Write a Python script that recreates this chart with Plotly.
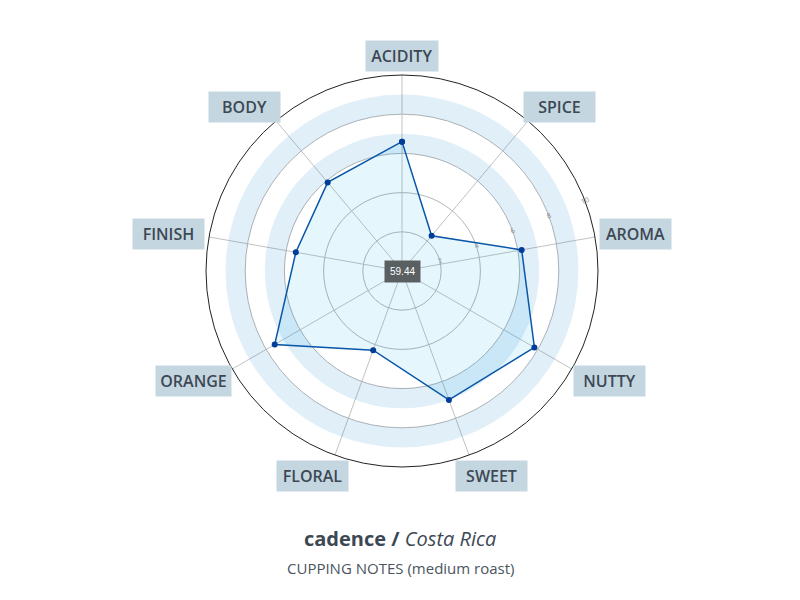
import math
import plotly.graph_objects as go

# cupping notes for the roast, read clockwise starting at the top
categories = ['ACIDITY', 'SPICE', 'AROMA', 'NUTTY', 'SWEET', 'FLORAL', 'ORANGE', 'FINISH', 'BODY']
scores = [6.6, 2.35, 6.2, 7.8, 7.0, 4.3, 7.5, 5.5, 5.9]
total_score = '59.44'

# shaded target zones (from, to)
band_starts = [6, 8]
band_ends = [7, 9]

radial_ticks = [2, 4, 6, 8, 10]

title_brand = 'cadence /'
title_origin = 'Costa Rica'
subtitle = 'CUPPING NOTES (medium roast)'

step = 360 / len(categories)
thetas = [i * step for i in range(len(categories))]

text_color = '#3d4854'
font_name = 'Open Sans'

fig = go.Figure()

for lo, hi in zip(band_starts, band_ends):
    fig.add_trace(go.Barpolar(
        r=[hi - lo],
        base=[lo],
        theta=[0],
        width=[360],
        marker=dict(color='rgba(0,120,200,0.12)', line=dict(width=0)),
        hoverinfo='skip',
        showlegend=False
    ))

fig.add_trace(go.Scatterpolar(
    r=scores + [scores[0]],
    theta=thetas + [thetas[0]],
    mode='lines+markers',
    fill='toself',
    fillcolor='rgba(0,170,240,0.1)',
    line=dict(color='#0a56a8', width=1.5),
    marker=dict(color='#003d99', size=6),
    showlegend=False
))

# polar placement in the figure (pixels); page body adds 8px offset
W, H = 800, 600
cx_px, cy_px, rad_px = 394, 263, 196
dom_x = [(cx_px - rad_px) / W, (cx_px + rad_px) / W]
dom_y = [1 - (cy_px + rad_px) / H, 1 - (cy_px - rad_px) / H]


def text_width(s):
    wide = 'OQRANGCDMWHU'
    narrow = 'I'
    w = 0
    for ch in s:
        if ch in wide:
            w += 11.5
        elif ch in narrow:
            w += 5
        else:
            w += 9.5
    return max(63, w)


annotations = []
label_r = 201
box_h = 27
for name, th in zip(categories, thetas):
    ang = math.radians(90 - th)
    c, s = math.cos(ang), math.sin(ang)
    tw = text_width(name)
    box_w = tw + 8
    # push the box out so its edge sits just outside the circle
    px = cx_px + label_r * c + math.copysign(abs(c) ** 0.5, c) * box_w / 2
    py = cy_px - label_r * s - s * box_h / 2
    if s < 0:
        py += 3
    annotations.append(dict(
        x=px / W, y=1 - py / H, xref='paper', yref='paper',
        text=name, showarrow=False, width=tw,
        xanchor='center', yanchor='middle',
        bgcolor='#c4d7e1', borderpad=4,
        font=dict(family=font_name, size=16, color=text_color, weight=600)
    ))

annotations.append(dict(
    x=cx_px / W, y=1 - cy_px / H, xref='paper', yref='paper',
    text=total_score, showarrow=False, bgcolor='#5a6062', borderpad=5,
    xanchor='center', yanchor='middle',
    font=dict(family='Arial', size=10, color='white')
))

annotations.append(dict(
    x=0.49, y=1 - 530 / H, xref='paper', yref='paper',
    text=f'<b>{title_brand}</b> <i>{title_origin}</i>', showarrow=False,
    xanchor='center', yanchor='middle',
    font=dict(family=font_name, size=20, color=text_color)
))
annotations.append(dict(
    x=0.49, y=1 - 560 / H, xref='paper', yref='paper',
    text=subtitle, showarrow=False,
    xanchor='center', yanchor='middle',
    font=dict(family=font_name, size=15, color='#4a5561')
))

fig.update_layout(
    width=W,
    height=H,
    margin=dict(l=0, r=0, t=0, b=0),
    paper_bgcolor='white',
    plot_bgcolor='white',
    showlegend=False,
    annotations=annotations,
    polar=dict(
        domain=dict(x=dom_x, y=dom_y),
        bgcolor='white',
        radialaxis=dict(
            range=[0, 10],
            tickvals=radial_ticks,
            showline=False,
            ticks='',
            angle=22.5,
            tickfont=dict(size=7, color='#888888'),
            gridcolor='#b5b5b5',
            gridwidth=1
        ),
        angularaxis=dict(
            tickmode='array',
            tickvals=thetas,
            showticklabels=False,
            ticks='',
            direction='clockwise',
            rotation=90,
            gridcolor='#c2c2c2',
            linecolor='#222222',
            linewidth=1
        )
    )
)

fig.write_html('out.html')
